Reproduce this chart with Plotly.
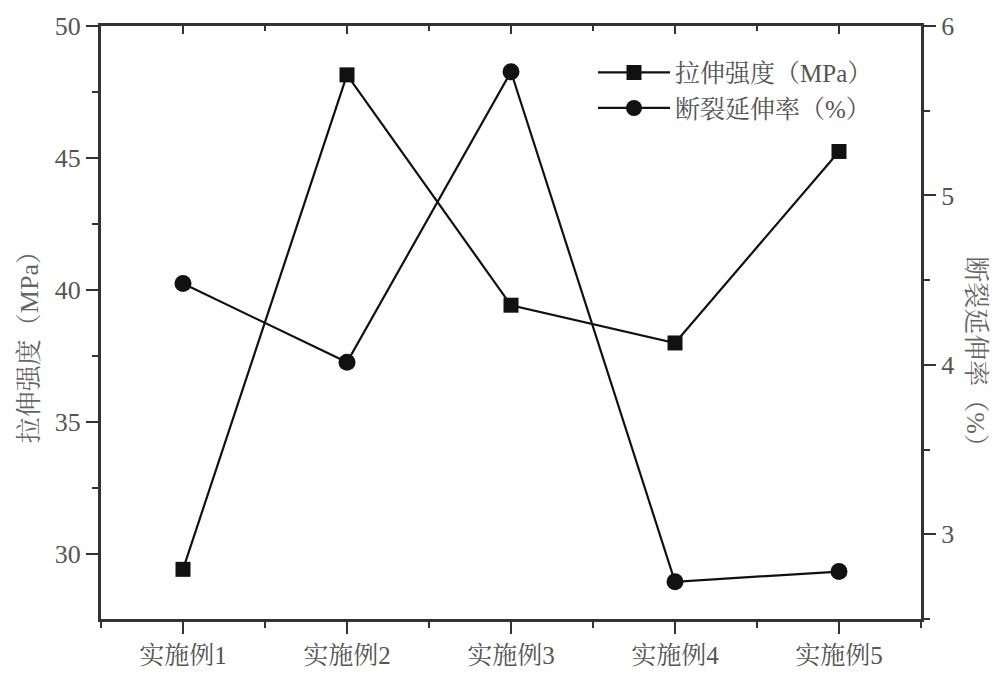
import plotly.graph_objects as go

categories = ["实施例1", "实施例2", "实施例3", "实施例4", "实施例5"]
tensile_strength = [29.43, 48.15, 39.43, 38.0, 45.25]
elongation = [4.48, 4.015, 5.73, 2.72, 2.78]
left_ticks = [30, 35, 40, 45, 50]
right_ticks = [3, 4, 5, 6]

name_ts = "拉伸强度（MPa）"
name_el = "断裂延伸率（%）"

FONT = "Liberation Serif, Noto Serif CJK SC, Noto Sans CJK SC, serif"
AX = "#333333"
TXT = "#555555"

xidx = list(range(len(categories)))

fig = go.Figure()
fig.add_trace(go.Scatter(
    x=xidx, y=tensile_strength, name=name_ts, mode="lines+markers",
    line=dict(color="#111111", width=2.2),
    marker=dict(symbol="square", size=15, color="#111111"),
    yaxis="y", xaxis="x"))
fig.add_trace(go.Scatter(
    x=xidx, y=elongation, name=name_el, mode="lines+markers",
    line=dict(color="#111111", width=2.2),
    marker=dict(symbol="circle", size=17, color="#111111"),
    yaxis="y2", xaxis="x"))
# invisible trace to activate the top (mirror) axis for inward ticks
fig.add_trace(go.Scatter(
    x=xidx, y=tensile_strength, mode="none", showlegend=False,
    hoverinfo="skip", xaxis="x2", yaxis="y"))

fig.update_layout(
    width=1000, height=682,
    margin=dict(l=101, r=79, t=24, b=63),
    paper_bgcolor="white", plot_bgcolor="white",
    font=dict(family=FONT, color=TXT, size=22),
    showlegend=True,
    legend=dict(x=0.6, y=0.96, xanchor="left", yanchor="top",
                bgcolor="rgba(0,0,0,0)", borderwidth=0,
                font=dict(family=FONT, size=25, color=TXT),
                itemwidth=72, tracegroupgap=0),
    xaxis=dict(range=[-0.5, 4.5], tickvals=xidx, ticktext=categories,
               showgrid=False, zeroline=False,
               showline=True, linecolor=AX, linewidth=3,
               ticks="outside", ticklen=12, tickwidth=2, tickcolor=AX,
               minor=dict(dtick=0.5, tick0=0, ticks="outside", ticklen=6,
                          tickwidth=2, tickcolor=AX, showgrid=False),
               tickfont=dict(family=FONT, size=25, color=TXT)),
    xaxis2=dict(range=[-0.5, 4.5], overlaying="x", side="top",
                tickvals=xidx, showticklabels=False, showgrid=False,
                zeroline=False, showline=True, linecolor=AX, linewidth=3,
                ticks="inside", ticklen=8, tickwidth=2, tickcolor=AX,
                minor=dict(dtick=0.5, tick0=0, ticks="inside", ticklen=5,
                           tickwidth=2, tickcolor=AX, showgrid=False)),
    yaxis=dict(range=[27.55, 50], tickvals=left_ticks,
               showgrid=False, zeroline=False,
               showline=True, linecolor=AX, linewidth=3,
               ticks="outside", ticklen=12, tickwidth=2, tickcolor=AX,
               minor=dict(dtick=2.5, tick0=0, ticks="outside", ticklen=6,
                          tickwidth=2, tickcolor=AX, showgrid=False),
               tickfont=dict(family=FONT, size=26, color=TXT)),
    yaxis2=dict(range=[2.5, 6], tickvals=right_ticks, overlaying="y",
                side="right", showgrid=False, zeroline=False,
                showline=True, linecolor=AX, linewidth=3,
                ticks="outside", ticklen=12, tickwidth=2, tickcolor=AX,
                minor=dict(dtick=0.5, tick0=0, ticks="outside", ticklen=6,
                           tickwidth=2, tickcolor=AX, showgrid=False),
                tickfont=dict(family=FONT, size=26, color=TXT)),
    annotations=[
        dict(text=name_ts, xref="paper", yref="paper", x=-0.088, y=0.47,
             textangle=-90, showarrow=False, xanchor="center", yanchor="middle",
             font=dict(family=FONT, size=26, color="#666666")),
        dict(text=name_el, xref="paper", yref="paper", x=1.067, y=0.44,
             textangle=90, showarrow=False, xanchor="center", yanchor="middle",
             font=dict(family=FONT, size=26, color="#666666")),
    ],
)

fig.write_html("out.html")
